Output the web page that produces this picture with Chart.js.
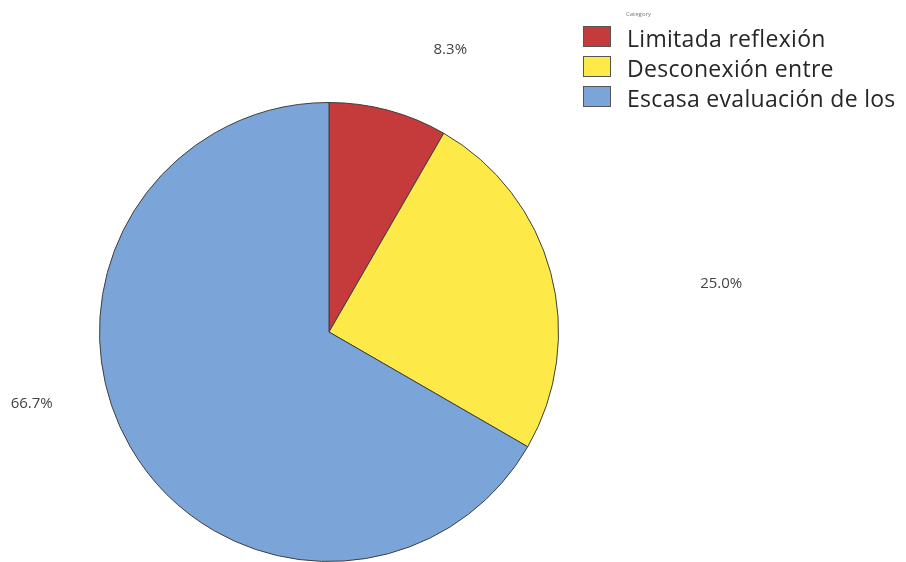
<!DOCTYPE html>
<html>
<head>
<meta charset="utf-8">
<script src="https://cdn.jsdelivr.net/npm/chart.js@4"></script>
<style>
  html, body { margin: 0; padding: 0; background: #ffffff; }
  #wrap { position: relative; width: 906px; height: 562px; }
</style>
</head>
<body>
<div id="wrap"><canvas id="chart" width="906" height="562"></canvas></div>
<script>
// Category names and counts for each slice
const categories = ['Limitada reflexión', 'Desconexión entre', 'Escasa evaluación de los'];
const counts = [1, 3, 8];
const legendTitle = 'Category';

const sliceColors = ['#c53a3b', '#fde947', '#7ba5d8'];
// Where each percentage label sits, as fractions of the canvas
const labelAnchors = [[0.497, 0.089], [0.796, 0.505], [0.035, 0.719]];

const total = counts.reduce((a, b) => a + b, 0);

const overlay = {
  id: 'overlay',
  afterDraw(chart) {
    const ctx = chart.ctx;
    const W = chart.width, H = chart.height;
    ctx.save();
    // percentage labels
    ctx.font = '15px "Open Sans", "Noto Sans", sans-serif';
    ctx.fillStyle = '#444444';
    ctx.textAlign = 'center';
    ctx.textBaseline = 'middle';
    counts.forEach((v, i) => {
      const pct = (v / total * 100).toFixed(1) + '%';
      ctx.fillText(pct, labelAnchors[i][0] * W, labelAnchors[i][1] * H);
    });
    // legend
    ctx.textAlign = 'left';
    ctx.textBaseline = 'alphabetic';
    ctx.font = '6px "Open Sans", sans-serif';
    ctx.fillStyle = '#777777';
    ctx.fillText(legendTitle, 626, 16);
    ctx.font = '23px "Open Sans", "Noto Sans", sans-serif';
    if ('letterSpacing' in ctx) ctx.letterSpacing = '0.3px';
    categories.forEach((name, i) => {
      const y = 26 + i * 30;
      ctx.fillStyle = sliceColors[i];
      ctx.fillRect(583.5, y + 0.5, 27, 20);
      ctx.strokeStyle = '#555555';
      ctx.lineWidth = 1;
      ctx.strokeRect(583.5, y + 0.5, 27, 20);
      ctx.fillStyle = '#262626';
      ctx.fillText(name, 627, y + 21);
    });
    ctx.restore();
  }
};

new Chart(document.getElementById('chart'), {
  type: 'pie',
  data: {
    labels: categories,
    datasets: [{
      data: counts,
      backgroundColor: sliceColors,
      borderColor: '#3f3f3f',
      borderWidth: 1
    }]
  },
  options: {
    responsive: false,
    animation: false,
    layout: { padding: { left: 0, right: 248, top: 102, bottom: 0 } },
    plugins: {
      legend: { display: false },
      tooltip: { enabled: false }
    }
  },
  plugins: [overlay]
});
</script>
</body>
</html>
